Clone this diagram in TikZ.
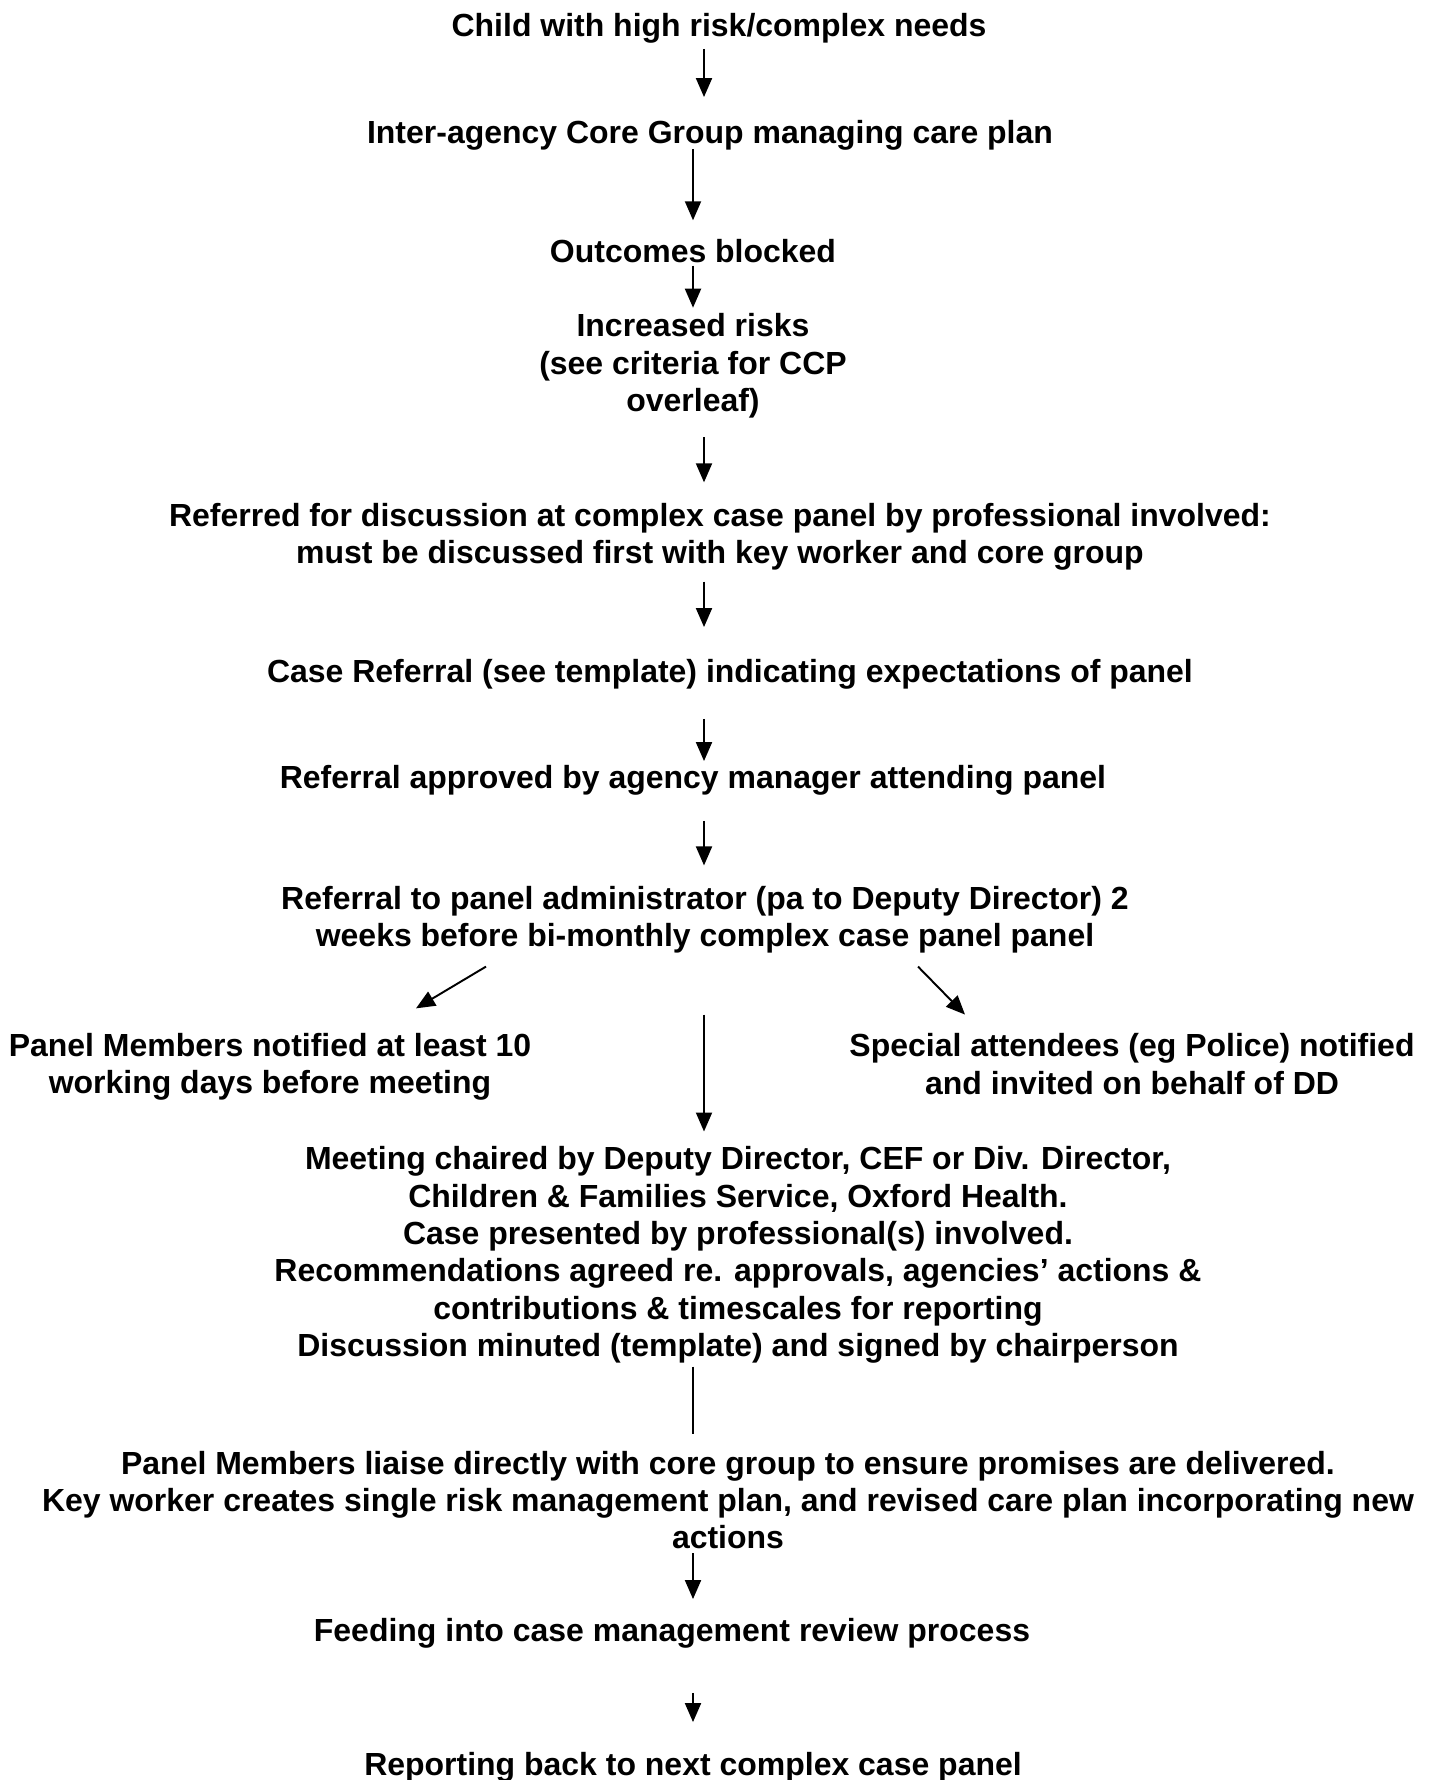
\documentclass[tikz,border=0pt]{standalone}
\usepackage{fontspec}
\setmainfont{Liberation Sans}
\usetikzlibrary{arrows.meta,calc}
\begin{document}
\begin{tikzpicture}[x=0.02cm,y=-0.02cm,line width=1.1pt,
        txt/.style={align=center,inner sep=0pt,font=\fontsize{18.2}{21.3}\selectfont\bfseries},
        arr/.style={-{Triangle[length=0.38cm,width=0.32cm]}}]
        \useasboundingbox (0,0) rectangle (1432,1780);
        \coordinate (colA) at (704,0);
        \coordinate (colB) at (693,0);
        \node[txt] (n1) at (719,28) {Child with high risk/complex needs};
        \node[txt] (n2) at (710,135) {Inter-agency Core Group managing care plan};
        \node[txt] (n3) at (693,251) {Outcomes blocked};
        \node[txt] (n4) at (693,366) {Increased risks\\(see criteria for CCP\\overleaf)};
        \node[txt] (n5) at (720,537) {Referred for discussion at complex case panel by professional involved:\\must be discussed first with key worker and core group};
        \node[txt] (n6) at (730,674) {Case Referral (see template) indicating expectations of panel};
        \node[txt] (n7) at (693,780) {Referral approved by agency manager attending panel};
        \node[txt] (n8) at (705,920) {Referral to panel administrator (pa to Deputy Director) 2\\weeks before bi-monthly complex case panel panel};
        \node[txt] (n9) at (270,1067) {Panel Members notified at least 10\\working days before meeting};
        \node[txt] (n10) at (1132,1064) {Special attendees (eg Police) notified\\and invited on behalf of DD};
        \node[txt] (n11) at (738,1255) {Meeting chaired by Deputy Director, CEF or Div. Director,\\Children \& Families Service, Oxford Health.\\Case presented by professional(s) involved.\\Recommendations agreed re. approvals, agencies’ actions \&\\contributions \& timescales for reporting\\Discussion minuted (template) and signed by chairperson};
        \node[txt] (n12) at (728,1500) {Panel Members liaise directly with core group to ensure promises are delivered.\\Key worker creates single risk management plan, and revised care plan incorporating new\\actions};
        \node[txt] (n13) at (672,1633) {Feeding into case management review process};
        \node[txt] (n14) at (693,1767) {Reporting back to next complex case panel};
        % down arrows: from / to / column / gap below / gap above
        \foreach \a/\b/\c/\s/\e in {n1/n2/colA/5/22, n2/n3/colB/-2/18, n3/n4/colB/2/5,
            n4/n5/colA/18/20, n5/n6/colA/10/31, n6/n7/colA/29/3, n7/n8/colA/25/20,
            n8/n11/colA/60/14, n12/n13/colB/3/18, n13/n14/colB/44/29}
        {
            \draw[arr] ($(\a.south -| \c)+(0,\s)$) -- ($(\b.north -| \c)+(0,-\e)$);
        }
        \draw ($(n11.south -| colB)+(0,2)$) -- ($(n12.north -| colB)+(0,-16)$);
        % side branches
        \draw[arr] ($(n8.south)+(-219,12)$) -- ($(n9.north)+(146,-24)$);
        \draw[arr] ($(n8.south)+(213,12)$) -- ($(n10.north)+(-167,-18)$);
\end{tikzpicture}
\end{document}
